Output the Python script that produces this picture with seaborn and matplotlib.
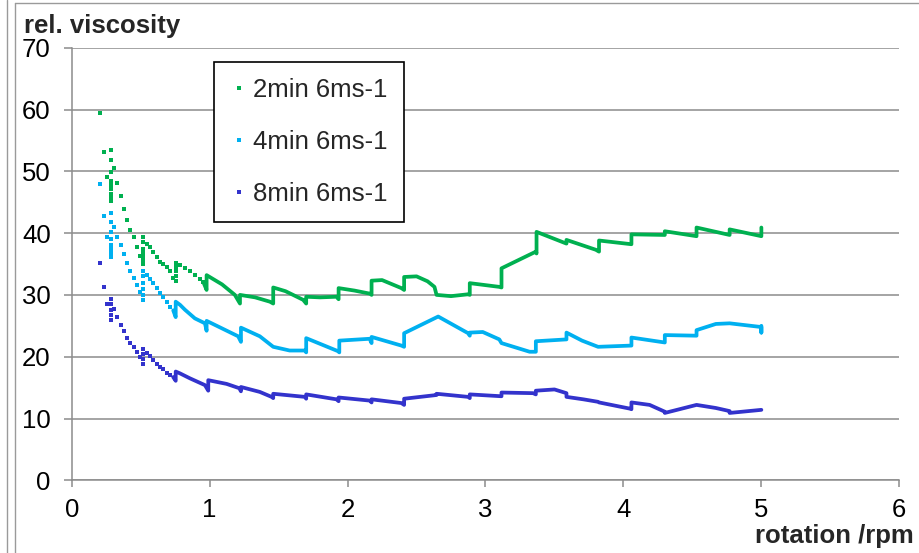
import matplotlib
matplotlib.use("Agg")
import matplotlib.pyplot as plt
from matplotlib.lines import Line2D
import seaborn as sns

# ---- data: rotation (rpm) vs relative viscosity ----
# sparse start-up readings (individual points)
green_dot_rpm = [0.207, 0.234, 0.283, 0.283, 0.309, 0.283, 0.258, 0.283, 0.331,
                 0.283, 0.283, 0.283, 0.283, 0.283, 0.355, 0.379, 0.401, 0.425,
                 0.449, 0.473, 0.495, 0.519, 0.519, 0.519, 0.519, 0.519, 0.519,
                 0.519, 0.543, 0.567, 0.591, 0.616, 0.640, 0.664, 0.688, 0.712,
                 0.736, 0.754, 0.754, 0.754, 0.754, 0.754, 0.785, 0.821, 0.857,
                 0.893, 0.929, 0.954]
green_dot_visc = [59.5, 53.2, 53.5, 51.8, 50.5, 49.9, 49.0, 48.5, 48.1,
                  47.8, 47.2, 46.3, 45.6, 45.2, 46.0, 43.9, 42.1, 40.5,
                  39.3, 37.8, 36.3, 39.3, 38.6, 37.5, 36.7, 36.2, 35.6,
                  35.0, 38.3, 37.7, 37.0, 36.2, 35.4, 35.0, 34.5, 33.8,
                  32.8, 35.2, 34.5, 33.8, 33.0, 32.3, 34.8, 34.3, 33.8,
                  33.2, 32.6, 32.1]

blue_dot_rpm = [0.208, 0.234, 0.283, 0.309, 0.283, 0.283, 0.258, 0.283, 0.331,
                0.283, 0.283, 0.283, 0.283, 0.355, 0.379, 0.401, 0.425, 0.449,
                0.473, 0.495, 0.519, 0.519, 0.519, 0.519, 0.519, 0.519, 0.543,
                0.567, 0.591, 0.616, 0.640, 0.664, 0.688, 0.712]
blue_dot_visc = [48.0, 42.7, 43.3, 41.0, 41.8, 40.2, 39.3, 39.1, 39.4,
                 38.1, 37.5, 36.7, 36.2, 38.0, 36.6, 35.2, 33.9, 32.8,
                 31.6, 30.4, 33.9, 33.0, 32.0, 31.0, 30.0, 29.2, 33.2,
                 32.5, 31.9, 31.1, 30.3, 29.6, 28.9, 28.1]

purple_dot_rpm = [0.208, 0.234, 0.283, 0.258, 0.283, 0.309, 0.283, 0.283, 0.283,
                  0.331, 0.355, 0.379, 0.401, 0.425, 0.449, 0.473, 0.495, 0.519,
                  0.519, 0.519, 0.519, 0.543, 0.567, 0.591, 0.616, 0.640, 0.664,
                  0.688, 0.712]
purple_dot_visc = [35.1, 31.2, 29.4, 28.5, 28.5, 27.7, 27.6, 26.8, 25.9,
                   26.4, 25.2, 24.2, 23.1, 22.2, 21.5, 20.8, 20.0, 21.2,
                   20.4, 19.6, 18.8, 20.6, 20.1, 19.5, 18.8, 18.4, 18.0,
                   17.4, 17.0]

# continuous logging after the start-up phase
green_rpm = [0.954, 0.978, 0.978, 1.090, 1.183, 1.220, 1.220, 1.330, 1.437, 1.461,
             1.461, 1.550, 1.678, 1.700, 1.700, 1.800, 1.920, 1.935, 1.935, 2.050,
             2.162, 2.174, 2.174, 2.250, 2.390, 2.410, 2.410, 2.500, 2.580, 2.630,
             2.645, 2.750, 2.874, 2.886, 2.886, 3.100, 3.116, 3.116, 3.365, 3.370,
             3.370, 3.587, 3.587, 3.800, 3.823, 3.823, 4.058, 4.058, 4.300, 4.300,
             4.530, 4.530, 4.770, 4.770, 5.000, 5.000]
green_visc = [32.1, 30.8, 33.2, 31.7, 30.0, 28.6, 30.0, 29.6, 28.9, 28.6,
              31.2, 30.6, 29.2, 28.6, 29.7, 29.6, 29.7, 29.3, 31.1, 30.7,
              30.2, 30.0, 32.3, 32.4, 31.1, 30.8, 32.9, 33.0, 32.2, 31.3,
              30.0, 29.8, 30.1, 30.0, 31.9, 31.3, 31.2, 34.3, 37.0, 36.7,
              40.2, 38.3, 38.9, 37.3, 37.0, 38.8, 38.2, 39.8, 39.7, 40.3,
              39.5, 40.9, 39.7, 40.6, 39.5, 40.9]

blue_rpm = [0.736, 0.754, 0.754, 0.785, 0.821, 0.857, 0.893, 0.966, 0.978, 0.978,
            1.207, 1.227, 1.227, 1.364, 1.461, 1.580, 1.690, 1.700, 1.700, 1.930,
            1.940, 1.940, 2.160, 2.174, 2.174, 2.390, 2.410, 2.410, 2.657, 2.874,
            2.886, 2.886, 2.980, 3.100, 3.116, 3.320, 3.365, 3.365, 3.587, 3.587,
            3.700, 3.816, 4.058, 4.058, 4.300, 4.300, 4.530, 4.530, 4.670, 4.770,
            5.000, 5.000, 5.000]
blue_visc = [27.5, 26.4, 28.9, 28.4, 27.6, 26.9, 26.2, 25.4, 24.2, 25.8,
             23.3, 22.4, 24.7, 23.3, 21.6, 21.0, 21.0, 20.7, 23.0, 20.9,
             20.7, 22.6, 22.9, 22.2, 23.2, 21.8, 21.6, 23.8, 26.5, 23.8,
             23.4, 23.9, 24.0, 22.8, 22.2, 20.8, 20.8, 22.5, 22.8, 23.9,
             22.6, 21.6, 21.8, 23.1, 22.3, 23.5, 23.4, 24.3, 25.3, 25.4,
             24.8, 23.9, 25.0]

purple_rpm = [0.736, 0.754, 0.754, 0.785, 0.821, 0.857, 0.966, 0.990, 0.990, 1.123,
              1.215, 1.227, 1.227, 1.364, 1.449, 1.461, 1.461, 1.690, 1.700, 1.700,
              1.920, 1.935, 1.935, 2.160, 2.174, 2.174, 2.390, 2.410, 2.410, 2.645,
              2.645, 2.874, 2.886, 2.886, 3.116, 3.116, 3.345, 3.365, 3.365, 3.500,
              3.587, 3.587, 3.710, 3.816, 3.823, 4.046, 4.058, 4.058, 4.190, 4.300,
              4.300, 4.530, 4.670, 4.770, 4.770, 5.000]
purple_visc = [16.7, 16.1, 17.6, 17.3, 16.9, 16.5, 15.4, 14.5, 16.2, 15.6,
               14.9, 14.4, 15.1, 14.3, 13.5, 13.3, 14.0, 13.5, 13.2, 13.9,
               13.1, 12.8, 13.4, 12.9, 12.6, 13.1, 12.5, 12.2, 13.2, 13.8,
               14.0, 13.5, 13.3, 13.9, 13.6, 14.2, 14.1, 13.9, 14.5, 14.7,
               14.1, 13.5, 13.1, 12.7, 12.6, 11.6, 11.5, 12.6, 12.2, 11.1,
               10.9, 12.2, 11.7, 11.2, 10.9, 11.4]

series_labels = ["2min 6ms-1", "4min 6ms-1", "8min 6ms-1"]
series_colors = ["#00B050", "#00B0F0", "#3333CC"]
x_ticks = [0, 1, 2, 3, 4, 5, 6]
y_ticks = [0, 10, 20, 30, 40, 50, 60, 70]

# ---- styling ----
sns.set_theme(style="white")
plt.rcParams["font.family"] = ["Liberation Sans", "DejaVu Sans"]
GRID = "#8c8c8c"
FS = 18.5

W, H = 920, 553
fig = plt.figure(figsize=(W / 100, H / 100), dpi=100)
x0, x1, y_top, y_bot = 71.7, 899.3, 47.7, 480.3
ax = fig.add_axes([x0 / W, 1 - y_bot / H, (x1 - x0) / W, (y_bot - y_top) / H])

dots = [(green_dot_rpm, green_dot_visc), (blue_dot_rpm, blue_dot_visc),
        (purple_dot_rpm, purple_dot_visc)]
traces = [(green_rpm, green_visc), (blue_rpm, blue_visc),
          (purple_rpm, purple_visc)]

for (dx, dy), (tx, ty), col in zip(dots, traces, series_colors):
    sns.scatterplot(x=dx, y=dy, ax=ax, marker="s", s=9, color=col,
                    linewidth=0, legend=False, zorder=3)
    sns.lineplot(x=tx, y=ty, ax=ax, sort=False, estimator=None, color=col,
                 lw=2.7, legend=False, zorder=3,
                 solid_joinstyle="round", solid_capstyle="round")

ax.set_xlim(0, 6)
ax.set_ylim(0, 70)
ax.set_xticks(x_ticks)
ax.set_yticks(y_ticks)
ax.set_xticklabels([str(v) for v in x_ticks])
ax.set_yticklabels([str(v) for v in y_ticks])
ax.set_xlabel("")
ax.set_ylabel("")

ax.yaxis.grid(True, color=GRID, lw=1.1)
ax.xaxis.grid(False)
ax.set_axisbelow(True)
for side in ("top", "right"):
    ax.spines[side].set_visible(False)
for side in ("left", "bottom"):
    ax.spines[side].set_color(GRID)
    ax.spines[side].set_linewidth(1.1)

ax.tick_params(axis="x", bottom=True, direction="out", length=5, width=1.1,
               color=GRID, pad=8, labelsize=FS, labelcolor="black")
ax.tick_params(axis="y", left=True, direction="out", length=6, width=1.1,
               color=GRID, pad=9, labelsize=FS, labelcolor="black")

handles = [Line2D([], [], marker="s", ms=2.8, ls="none", color=c,
                  markeredgewidth=0) for c in series_colors]
leg = ax.legend(handles, series_labels, loc="upper left",
                bbox_to_anchor=(0.172, 0.967), frameon=True, fancybox=False,
                edgecolor="black", framealpha=1, fontsize=FS,
                labelspacing=1.1, handlelength=0.7, handletextpad=0.2,
                borderpad=0.62, borderaxespad=0)
leg.get_frame().set_linewidth(1.2)

fig.text(24 / W, 1 - 33 / H, "rel. viscosity", fontsize=FS, fontweight="bold",
         ha="left", va="baseline")
fig.text(914 / W, 1 - 543.3 / H, "rotation /rpm", fontsize=FS,
         fontweight="bold", ha="right", va="baseline")

# outer chart-area border
BORDER = "#9a9a9a"
fig.add_artist(Line2D([7.5 / W, 7.5 / W], [0, 1], transform=fig.transFigure,
                      color=BORDER, lw=1.0))
fig.add_artist(Line2D([15 / W, 15 / W], [0, 1 - 3 / H],
                      transform=fig.transFigure, color=BORDER, lw=1.0))
fig.add_artist(Line2D([15 / W, 1], [1 - 3 / H, 1 - 3 / H],
                      transform=fig.transFigure, color=BORDER, lw=1.0))

fig.savefig("out.png", dpi=100)
